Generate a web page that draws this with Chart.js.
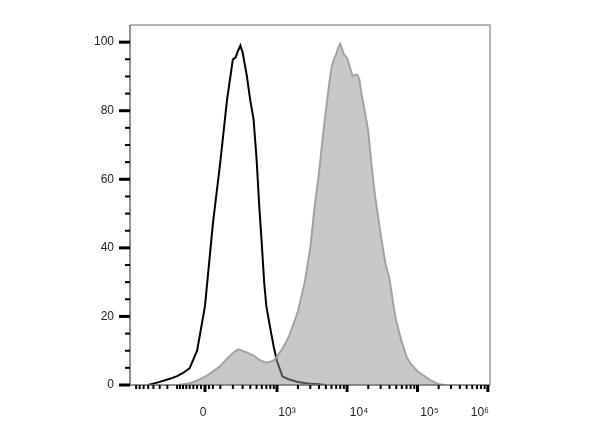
<!DOCTYPE html>
<html>
<head>
<meta charset="utf-8">
<script src="https://cdn.jsdelivr.net/npm/chart.js@4.4.1/dist/chart.umd.min.js"></script>
<style>
  html, body { margin: 0; padding: 0; background: #ffffff; }
  canvas { display: block; }
</style>
</head>
<body>
<canvas id="c" width="600" height="427"></canvas>
<script>
// ---- data (fluorescence intensity bins, % of max) ----
const X_VALUES = [-1000,-800,-600,-500,-400,-300,-250,-200,-150,-100,-50,0,50,100,150,200,225,250,275,300,350,400,450,500,550,600,650,700,800,900,1000,1200,1500,2000,2500,3000,3500,4000,4500,5000,5500,6000,6500,7000,7500,8000,9000,10000,11000,12000,13000,14000,15000,16000,18000,20000,22000,25000,30000,35000,40000,45000,50000,60000,70000,80000,100000,120000,150000,200000,250000];
const CONTROL = [null,null,0,0.4,0.9,1.6,2.0,2.6,3.5,4.9,10,23,47,65,83,95,95.5,97.5,99,97,90.5,83,77.5,66,52,41,30,23,16.5,11,7,2.5,1.6,0.9,0.6,0.4,0.3,0.2,0.1,0,null,null,null,null,null,null,null,null,null,null,null,null,null,null,null,null,null,null,null,null,null,null,null,null,null,null,null,null,null,null,null];
const STAINED = [null,null,null,null,null,null,null,0,0.2,0.5,1.3,2.4,3.9,5.5,7.7,9.3,9.9,10.4,10.2,9.9,9.5,9.0,8.6,7.9,7.4,7.0,6.7,6.6,6.8,7.2,8.3,10.6,14.3,21.5,30,40,53,62,72,80,87,92.5,95,96.5,98.5,99.5,96.5,95.3,92.7,90,90.5,90.5,89,85,79.5,74,65,55,44,35.5,31,24,18.5,12.5,8.2,6.2,4,2.9,1.5,0.2,0];

// ---- axes ----
const Y_MAJOR = [0, 20, 40, 60, 80, 100];
const Y_MINOR = [5,10,15,25,30,35,45,50,55,65,70,75,85,90,95];
const X_MAJOR = [0, 1000, 10000, 100000, 1000000];
const X_LABELS = ['0', '10\u00B3', '10\u2074', '10\u2075', '10\u2076'];
const X_MINOR = [-900,-800,-700,-600,-500,-400,-300,-200,-175,-150,-125,-100,-75,-50,-25,25,50,
  100,200,300,400,500,600,700,800,900,
  2000,3000,4000,5000,6000,7000,8000,9000,
  20000,30000,40000,50000,60000,70000,80000,90000,
  200000,300000,400000,500000,600000,700000,800000,900000];

// style: horizontal nudges of the tick labels
const X_LABEL_SHIFT = {'0': -2, '10\u00B3': 10, '10\u2074': 12, '10\u2075': 12, '10\u2076': -8};
const WIDTH_BASIS = 191.6; // linear-region width of the biexponential (arcsinh) display

class BiexScale extends Chart.LinearScale {
  static id = 'biex';
  static defaults = {};
  _t(v) { return Math.asinh(v / WIDTH_BASIS); }
  configure() {
    super.configure();
    this._tMin = this._t(this.min);
    this._tMax = this._t(this.max);
  }
  buildTicks() { return X_MAJOR.map(v => ({ value: v })); }
  getPixelForValue(v) {
    return this.getPixelForDecimal((this._t(v) - this._tMin) / (this._tMax - this._tMin));
  }
  getValueForPixel(p) {
    const d = this.getDecimalForPixel(p);
    return WIDTH_BASIS * Math.sinh(this._tMin + d * (this._tMax - this._tMin));
  }
  _computeLabelItems(area) {
    const items = super._computeLabelItems(area);
    items.forEach(it => {
      const dx = X_LABEL_SHIFT[it.label] || 0;
      if (it.options && it.options.translation) it.options.translation[0] += dx;
    });
    return items;
  }
}
Chart.register(BiexScale);

const axisMarks = {
  id: 'axisMarks',
  afterDraw(chart) {
    const { ctx, chartArea: a, scales: { x, y } } = chart;
    ctx.save();
    ctx.lineCap = 'butt';
    ctx.strokeStyle = '#9c9c9c';
    ctx.lineWidth = 1.5;
    ctx.beginPath();
    ctx.moveTo(a.left, a.top); ctx.lineTo(a.right, a.top); ctx.lineTo(a.right, a.bottom);
    ctx.stroke();
    ctx.strokeStyle = '#6e6e6e';
    ctx.beginPath();
    ctx.moveTo(a.left, a.top); ctx.lineTo(a.left, a.bottom); ctx.lineTo(a.right, a.bottom);
    ctx.stroke();
    ctx.strokeStyle = '#000000';
    const mark = (x1, y1, x2, y2, w) => {
      ctx.lineWidth = w; ctx.beginPath(); ctx.moveTo(x1, y1); ctx.lineTo(x2, y2); ctx.stroke();
    };
    Y_MAJOR.forEach(v => { const p = y.getPixelForValue(v); mark(a.left - 11, p, a.left, p, 3); });
    Y_MINOR.forEach(v => { const p = y.getPixelForValue(v); mark(a.left - 5, p, a.left, p, 2); });
    X_MAJOR.forEach(v => { const p = x.getPixelForValue(v); mark(p, a.bottom, p, a.bottom + 7, 3); });
    X_MINOR.forEach(v => { const p = x.getPixelForValue(v); mark(p, a.bottom, p, a.bottom + 4, 2); });
    ctx.restore();
  }
};

const FONT = { family: "'Liberation Sans', Arial, sans-serif", size: 12 };

new Chart(document.getElementById('c'), {
  type: 'line',
  data: {
    labels: X_VALUES,
    datasets: [
      {
        label: 'Stained',
        data: X_VALUES.map((v, i) => ({ x: v, y: STAINED[i] })),
        borderColor: '#a2a2a2',
        backgroundColor: 'rgba(150,150,150,0.52)',
        borderWidth: 2,
        fill: 'origin',
        pointRadius: 0,
        tension: 0,
        order: 0
      },
      {
        label: 'Control',
        data: X_VALUES.map((v, i) => ({ x: v, y: CONTROL[i] })),
        borderColor: '#000000',
        borderWidth: 2,
        fill: false,
        pointRadius: 0,
        tension: 0,
        order: 1
      }
    ]
  },
  options: {
    responsive: false,
    animation: false,
    devicePixelRatio: 1,
    layout: { padding: { left: 0, right: 110, top: 25, bottom: 0 } },
    plugins: { legend: { display: false }, tooltip: { enabled: false } },
    scales: {
      x: {
        type: 'biex',
        min: -1105,
        max: 1073000,
        grid: { display: false, drawTicks: false },
        border: { display: false },
        ticks: {
          autoSkip: false, maxRotation: 0, minRotation: 0, padding: 20,
          font: FONT, color: '#1e1e1e',
          callback: (v, i) => X_LABELS[i]
        },
        afterFit: s => { s.height = 42; }
      },
      y: {
        type: 'linear',
        min: 0,
        max: 105,
        grid: { display: false, drawTicks: false },
        border: { display: false },
        afterBuildTicks: s => { s.ticks = Y_MAJOR.map(v => ({ value: v })); },
        ticks: { padding: 16, font: FONT, color: '#1e1e1e', callback: v => String(v) },
        afterFit: s => { s.width = 130; }
      }
    }
  },
  plugins: [axisMarks]
});
</script>
</body>
</html>
